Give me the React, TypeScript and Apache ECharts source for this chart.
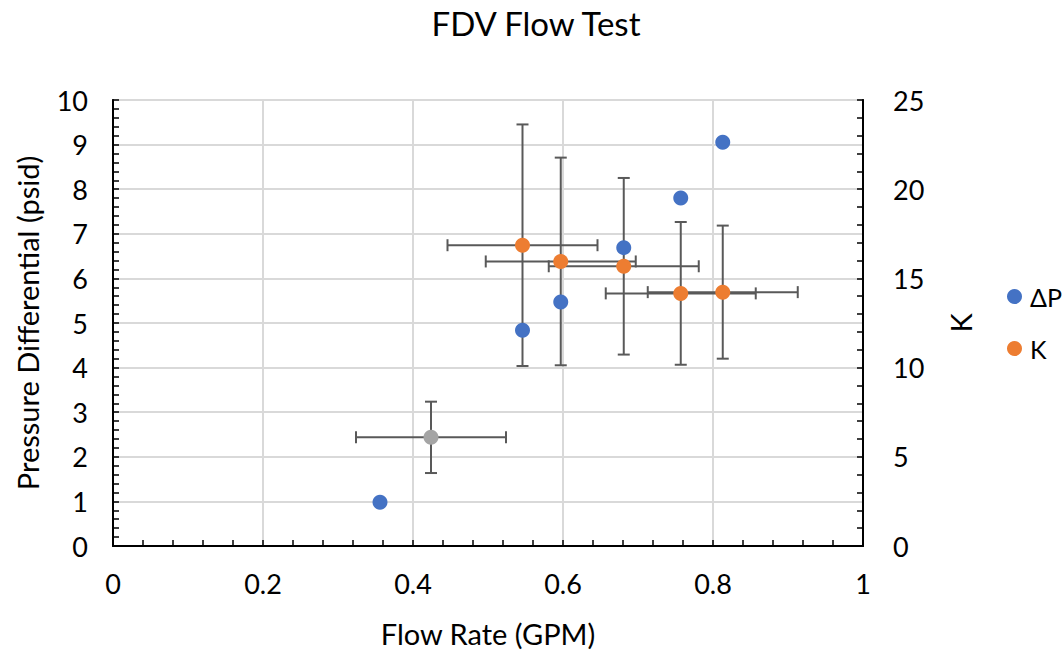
import React, { useEffect, useRef } from "react";
import * as echarts from "echarts";

const flowDP = [0.356, 0.546, 0.597, 0.681, 0.757, 0.813];
const dP = [0.98, 4.84, 5.47, 6.69, 7.8, 9.05];

const flowK = [0.424, 0.546, 0.597, 0.681, 0.757, 0.813];
const kValues = [6.09, 16.86, 15.95, 15.68, 14.16, 14.23];
const kErr = [2.0, 6.77, 5.82, 4.95, 4.0, 3.73];
const flowErr = [0.1, 0.1, 0.1, 0.1, 0.1, 0.1];
const kColors = ["#A5A5A5", "#ED7D31", "#ED7D31", "#ED7D31", "#ED7D31", "#ED7D31"];

const xTicks = [0, 0.2, 0.4, 0.6, 0.8, 1];
const FONT = "Lato, 'Open Sans', sans-serif";
const TICK_FS = 27;
const NAME_FS = 29;

export default function App() {
  const ref = useRef<HTMLDivElement>(null);
  useEffect(() => {
    document.body.style.margin = "0";
    const chart = echarts.init(ref.current!, null, { renderer: "svg" });
    const errData = flowK.map((x, i) => [x, kValues[i], flowErr[i], kErr[i]]);
    chart.setOption({
      animation: false,
      textStyle: { fontFamily: FONT },
      title: {
        text: "FDV Flow Test",
        left: 531,
        textAlign: "center",
        top: 1,
        textStyle: { fontFamily: FONT, fontSize: 33, fontWeight: "normal", color: "#000" },
      },
      legend: {
        orient: "vertical",
        left: 1002,
        top: 279,
        itemWidth: 15,
        itemHeight: 15,
        itemGap: 27,
        icon: "circle",
        data: ["ΔP", "K"],
        textStyle: { fontFamily: FONT, fontSize: 25, color: "#000", padding: [0, 0, 0, 3] },
      },
      grid: {
        left: 113,
        top: 100,
        right: 201,
        bottom: 106,
        show: true,
        borderColor: "#000",
        borderWidth: 1.5,
        backgroundColor: "transparent",
      },
      xAxis: {
        type: "value",
        min: 0,
        max: 1,
        interval: 0.2,
        name: "Flow Rate (GPM)",
        nameLocation: "middle",
        nameGap: 73,
        nameTextStyle: { fontFamily: FONT, fontSize: NAME_FS, color: "#000" },
        axisLine: { show: true, lineStyle: { color: "#000", width: 2 } },
        axisTick: { show: true, inside: true, length: 6, lineStyle: { color: "#000", width: 1.5 } },
        minorTick: { show: true, splitNumber: 5, length: 6, lineStyle: { color: "#000", width: 1.5 } },
        splitLine: { show: true, lineStyle: { color: "#D9D9D9", width: 2 } },
        axisLabel: {
          margin: 24,
          fontFamily: FONT,
          fontSize: TICK_FS,
          color: "#000",
          formatter: (v: number) => {
            const t = xTicks.find((x) => Math.abs(x - v) < 1e-9);
            return t === undefined ? "" : String(t);
          },
        },
      },
      yAxis: [
        {
          type: "value",
          min: 0,
          max: 10,
          interval: 1,
          name: "Pressure Differential (psid)",
          nameLocation: "middle",
          nameRotate: 90,
          nameGap: 71,
          nameTextStyle: { fontFamily: FONT, fontSize: NAME_FS, color: "#000" },
          axisLine: { show: true, lineStyle: { color: "#000", width: 2 } },
          axisTick: { show: true, inside: true, length: 6, lineStyle: { color: "#000", width: 1.5 } },
          minorTick: { show: true, splitNumber: 5, length: 6, lineStyle: { color: "#000", width: 1.5 } },
          splitLine: { show: true, lineStyle: { color: "#D9D9D9", width: 2 } },
          axisLabel: { margin: 25, fontFamily: FONT, fontSize: TICK_FS, color: "#000" },
        },
        {
          type: "value",
          min: 0,
          max: 25,
          interval: 5,
          name: "K",
          nameLocation: "middle",
          nameRotate: 90,
          nameGap: 83,
          nameTextStyle: { fontFamily: FONT, fontSize: NAME_FS, color: "#000" },
          axisLine: { show: true, lineStyle: { color: "#000", width: 2 } },
          axisTick: { show: true, inside: true, length: 6, lineStyle: { color: "#000", width: 1.5 } },
          minorTick: { show: true, splitNumber: 5, length: 6, lineStyle: { color: "#000", width: 1.5 } },
          splitLine: { show: false },
          axisLabel: { margin: 30, fontFamily: FONT, fontSize: TICK_FS, color: "#000" },
        },
      ],
      series: [
        {
          name: "errors",
          type: "custom",
          xAxisIndex: 0,
          yAxisIndex: 1,
          z: 1,
          silent: true,
          data: errData,
          renderItem: (params: any, api: any) => {
            const x = api.value(0);
            const y = api.value(1);
            const xe = api.value(2);
            const ye = api.value(3);
            const l = api.coord([x - xe, y]);
            const r = api.coord([x + xe, y]);
            const t = api.coord([x, y + ye]);
            const b = api.coord([x, y - ye]);
            const c = 6;
            const style = { stroke: "#595959", lineWidth: 2, fill: "none" };
            return {
              type: "group",
              children: [
                { type: "line", shape: { x1: l[0], y1: l[1], x2: r[0], y2: r[1] }, style },
                { type: "line", shape: { x1: l[0], y1: l[1] - c, x2: l[0], y2: l[1] + c }, style },
                { type: "line", shape: { x1: r[0], y1: r[1] - c, x2: r[0], y2: r[1] + c }, style },
                { type: "line", shape: { x1: t[0], y1: t[1], x2: b[0], y2: b[1] }, style },
                { type: "line", shape: { x1: t[0] - c, y1: t[1], x2: t[0] + c, y2: t[1] }, style },
                { type: "line", shape: { x1: b[0] - c, y1: b[1], x2: b[0] + c, y2: b[1] }, style },
              ],
            };
          },
        },
        {
          name: "ΔP",
          type: "scatter",
          xAxisIndex: 0,
          yAxisIndex: 0,
          z: 3,
          symbol: "circle",
          symbolSize: 15,
          itemStyle: { color: "#4472C4", opacity: 1 },
          data: flowDP.map((x, i) => [x, dP[i]]),
        },
        {
          name: "K",
          type: "scatter",
          xAxisIndex: 0,
          yAxisIndex: 1,
          z: 3,
          symbol: "circle",
          symbolSize: 15,
          itemStyle: { color: "#ED7D31", opacity: 1 },
          data: flowK.map((x, i) => ({ value: [x, kValues[i]], itemStyle: { color: kColors[i], opacity: 1 } })),
        },
      ],
    });
    return () => chart.dispose();
  }, []);
  return <div ref={ref} style={{ width: 1064, height: 653 }} />;
}
